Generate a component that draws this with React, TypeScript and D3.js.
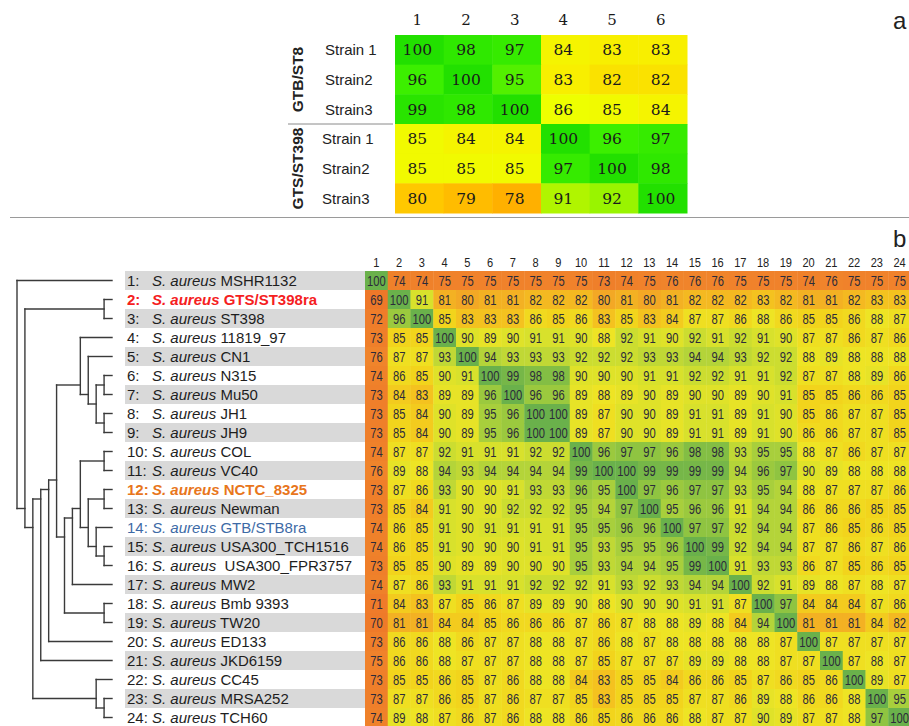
import * as d3 from 'd3';

// ---- panel a: 6x6 identity matrix of the six strains ----
const colsA = ['1', '2', '3', '4', '5', '6'];
const groupsA = ['GTB/ST8', 'GTS/ST398'];
const strainsA = ['Strain 1', 'Strain2', 'Strain3', 'Strain 1', 'Strain2', 'Strain3'];
const valuesA = [
  [100, 98, 97, 84, 83, 83],
  [96, 100, 95, 83, 82, 82],
  [99, 98, 100, 86, 85, 84],
  [85, 84, 84, 100, 96, 97],
  [85, 85, 85, 97, 100, 98],
  [80, 79, 78, 91, 92, 100],
];

// ---- panel b: 24 S. aureus genomes ----
const strainNames = [
  'MSHR1132', 'GTS/ST398ra', 'ST398', '11819_97', 'CN1', 'N315', 'Mu50', 'JH1',
  'JH9', 'COL', 'VC40', 'NCTC_8325', 'Newman', 'GTB/STB8ra', 'USA300_TCH1516',
  '\u00a0USA300_FPR3757', 'MW2', 'Bmb 9393', 'TW20', 'ED133', 'JKD6159', 'CC45',
  'MRSA252', 'TCH60',
];
const strainIds = strainNames.map((_, i) => i + 1);
const highlighted: Record<number, { color: string; bold: boolean }> = {
  2: { color: '#f5201e', bold: true },
  12: { color: '#e8761c', bold: true },
  14: { color: '#3d6aa6', bold: false },
};

const matrixB = [
  [100, 74, 74, 75, 75, 75, 75, 75, 75, 75, 73, 74, 75, 76, 76, 76, 75, 75, 75, 74, 76, 75, 75, 75],
  [69, 100, 91, 81, 80, 81, 81, 82, 82, 82, 80, 81, 80, 81, 82, 82, 82, 83, 82, 81, 81, 82, 83, 83],
  [72, 96, 100, 85, 83, 83, 83, 86, 85, 86, 83, 85, 83, 84, 87, 87, 86, 88, 86, 85, 85, 86, 88, 87],
  [73, 85, 85, 100, 90, 89, 90, 91, 91, 90, 88, 92, 91, 90, 92, 91, 92, 91, 90, 87, 87, 86, 87, 86],
  [76, 87, 87, 93, 100, 94, 93, 93, 93, 92, 92, 92, 93, 93, 94, 94, 93, 92, 92, 88, 89, 88, 88, 88],
  [74, 86, 85, 90, 91, 100, 99, 98, 98, 90, 90, 90, 91, 91, 92, 92, 91, 91, 92, 87, 87, 88, 89, 86],
  [73, 84, 83, 89, 89, 96, 100, 96, 96, 89, 88, 89, 90, 89, 90, 90, 89, 90, 91, 85, 85, 86, 86, 85],
  [73, 85, 84, 90, 89, 95, 96, 100, 100, 89, 87, 90, 90, 89, 91, 91, 89, 91, 90, 85, 86, 87, 87, 85],
  [73, 85, 84, 90, 89, 95, 96, 100, 100, 89, 87, 90, 90, 89, 91, 91, 89, 91, 90, 86, 86, 87, 87, 85],
  [74, 87, 87, 92, 91, 91, 91, 92, 92, 100, 96, 97, 97, 96, 98, 98, 93, 95, 95, 88, 87, 86, 87, 87],
  [76, 89, 88, 94, 93, 94, 94, 94, 94, 99, 100, 100, 99, 99, 99, 99, 94, 96, 97, 90, 89, 88, 88, 88],
  [73, 87, 86, 93, 90, 90, 91, 93, 93, 96, 95, 100, 97, 96, 97, 97, 93, 95, 94, 88, 87, 87, 87, 86],
  [73, 85, 84, 91, 90, 90, 92, 92, 92, 95, 94, 97, 100, 95, 96, 96, 91, 94, 94, 86, 86, 86, 85, 85],
  [74, 86, 85, 91, 90, 91, 91, 91, 91, 95, 95, 96, 96, 100, 97, 97, 92, 94, 94, 87, 86, 85, 86, 85],
  [74, 86, 85, 91, 90, 90, 90, 91, 91, 95, 93, 95, 95, 96, 100, 99, 92, 94, 94, 87, 87, 86, 87, 86],
  [73, 85, 85, 90, 89, 89, 90, 90, 90, 95, 93, 94, 94, 95, 99, 100, 91, 93, 93, 86, 87, 85, 86, 85],
  [74, 87, 86, 93, 91, 91, 91, 92, 92, 92, 91, 93, 92, 93, 94, 94, 100, 92, 91, 89, 88, 87, 88, 87],
  [71, 84, 83, 87, 85, 86, 87, 89, 89, 90, 88, 90, 90, 90, 91, 91, 87, 100, 97, 84, 84, 84, 87, 86],
  [70, 81, 81, 84, 84, 85, 86, 86, 86, 87, 86, 87, 88, 88, 89, 88, 84, 94, 100, 81, 81, 81, 84, 82],
  [73, 86, 86, 88, 86, 87, 87, 88, 88, 87, 86, 88, 87, 88, 88, 88, 88, 88, 87, 100, 87, 87, 87, 87],
  [75, 86, 86, 88, 87, 87, 87, 88, 88, 87, 85, 87, 87, 87, 89, 89, 88, 88, 87, 87, 100, 87, 88, 87],
  [73, 85, 85, 86, 85, 87, 86, 88, 88, 84, 83, 85, 85, 84, 86, 86, 85, 87, 86, 85, 86, 100, 89, 87],
  [73, 87, 87, 86, 85, 87, 86, 87, 87, 85, 83, 85, 85, 85, 87, 87, 86, 89, 88, 86, 86, 88, 100, 95],
  [74, 89, 88, 87, 86, 87, 86, 88, 88, 86, 85, 86, 86, 86, 88, 87, 87, 90, 89, 87, 87, 88, 97, 100],
];

// dendrogram: h = branching level, leaves are strain ids
type TNode = number | { h: number; c: TNode[] };
const tree: TNode = {
  h: 12,
  c: [
    1,
    {
      h: 11,
      c: [
        { h: 1, c: [2, 3] },
        {
          h: 10,
          c: [
            {
              h: 9,
              c: [
                {
                  h: 8,
                  c: [
                    {
                      h: 7,
                      c: [
                        { h: 4, c: [4, { h: 3, c: [5, { h: 2, c: [{ h: 1, c: [6, 7] }, { h: 1, c: [8, 9] }] }] }] },
                        {
                          h: 6,
                          c: [
                            {
                              h: 5,
                              c: [
                                {
                                  h: 4,
                                  c: [
                                    { h: 1, c: [10, 11] },
                                    { h: 3, c: [{ h: 1, c: [12, 13] }, { h: 2, c: [14, { h: 1, c: [15, 16] }] }] },
                                  ],
                                },
                                17,
                              ],
                            },
                            { h: 1, c: [18, 19] },
                          ],
                        },
                      ],
                    },
                    20,
                  ],
                },
                21,
              ],
            },
            { h: 2, c: [22, { h: 1, c: [23, 24] }] },
          ],
        },
      ],
    },
  ],
};

const sans = '"Liberation Sans", Arial, sans-serif';
const serif = '"DejaVu Serif", Georgia, serif';

const heatA = d3
  .scaleLinear<string>()
  .domain([78, 80, 83, 86, 91, 96, 100])
  .range(['#ffb000', '#ffc800', '#f8ef00', '#eeff00', '#b0f500', '#3cef00', '#22e000'])
  .clamp(true);

const heatB = d3
  .scaleLinear<string>()
  .domain([69, 76, 80, 83, 85, 88, 91, 94, 97, 100])
  .range(['#ee7829', '#f0842b', '#f3a825', '#f4c21f', '#f2d41c', '#eee424', '#d8e12c', '#b4d439', '#8fc441', '#6ab14b'])
  .clamp(true);

export default function App() {
  const W = 909;
  const H = 726;

  // panel a scales
  const xA = d3.scaleBand<string>().domain(colsA).range([395, 687]);
  const yA = d3.scaleBand<number>().domain(d3.range(strainsA.length)).range([35, 213]);

  // panel b scales
  const xB = d3.scaleBand<number>().domain(strainIds).range([365, 365 + 24 * 22.75]);
  const yB = d3.scaleBand<number>().domain(strainIds).range([271, 727]);
  const xT = d3.scaleLinear().domain([0, 12]).range([112, 17]);

  // layout tree
  const segs: { x1: number; y1: number; x2: number; y2: number }[] = [];
  const layout = (n: TNode): { x: number; y: number; lo: number; hi: number } => {
    if (typeof n === 'number') {
      const y = (yB(n) ?? 0) + yB.bandwidth() / 2;
      return { x: xT(0), y, lo: y, hi: y };
    }
    const kids = n.c.map(layout);
    const x = xT(n.h);
    const lo = d3.min(kids, (k) => k.lo)!;
    const hi = d3.max(kids, (k) => k.hi)!;
    const ys = kids.map((k) => k.y);
    segs.push({ x1: x, x2: x, y1: d3.min(ys)!, y2: d3.max(ys)! });
    kids.forEach((k) => segs.push({ x1: x, x2: k.x, y1: k.y, y2: k.y }));
    return { x, y: (lo + hi) / 2, lo, hi };
  };
  layout(tree);

  const cw = xB.bandwidth();
  const ch = yB.bandwidth();

  return (
    <svg width={W} height={H} style={{ position: 'absolute', left: 0, top: 0, background: '#fff' }}>
      {/* ---------- panel a ---------- */}
      <text x={893} y={29} fontSize={24} fontFamily={sans} fill="#222">a</text>
      {colsA.map((c) => (
        <text key={`ha-${c}`} x={(xA(c) ?? 0) + xA.bandwidth() / 2 - 2} y={25} textAnchor="middle"
          fontSize={15} fontFamily={serif} fill="#1a1a1a">
          {c}
        </text>
      ))}
      {valuesA.map((row, r) =>
        row.map((v, c) => (
          <rect key={`ca-${r}-${c}`} x={xA(colsA[c])} y={yA(r)} width={xA.bandwidth() + 0.5}
            height={yA.bandwidth() + 0.5} fill={heatA(v)} />
        ))
      )}
      {valuesA.map((row, r) =>
        row.map((v, c) => (
          <text key={`ta-${r}-${c}`} x={(xA(colsA[c]) ?? 0) + xA.bandwidth() / 2 - 2}
            y={(yA(r) ?? 0) + yA.bandwidth() / 2} dy="0.36em" textAnchor="middle"
            fontSize={15.5} fontFamily={serif} fill="#1a1a1a">
            {v}
          </text>
        ))
      )}
      {strainsA.map((s, r) => (
        <text key={`sa-${r}`} x={r < 3 ? 325 : 322} y={(yA(r) ?? 0) + yA.bandwidth() / 2} dy="0.36em"
          fontSize={15} fontFamily={sans} fill="#222">
          {s}
        </text>
      ))}
      {groupsA.map((g, i) => {
        const y0 = yA(i * 3) ?? 0;
        const cy = y0 + (yA.bandwidth() * 3) / 2;
        return (
          <text key={`ga-${g}`} transform={`translate(297, ${cy}) rotate(-90)`} textAnchor="middle"
            dy="0.36em" fontSize={15.5} fontWeight="bold" fontFamily={sans} fill="#222">
            {g}
          </text>
        );
      })}
      <line x1={288} x2={393} y1={yA(3)} y2={yA(3)} stroke="#8a8a8a" strokeWidth={1} />

      {/* divider */}
      <line x1={10} x2={W} y1={217.5} y2={217.5} stroke="#9a9a9a" strokeWidth={1} />

      {/* ---------- panel b ---------- */}
      <text x={893} y={247} fontSize={24} fontFamily={sans} fill="#222">b</text>
      {strainIds.map((id) => (
        <text key={`hb-${id}`} transform={`translate(${(xB(id) ?? 0) + cw / 2}, 266.5) scale(0.82, 1)`}
          textAnchor="middle" fontSize={13.5} fontFamily={sans} fill="#222">
          {id}
        </text>
      ))}

      {/* label bands */}
      {strainIds.filter((id) => id % 2 === 1).map((id) => (
        <rect key={`band-${id}`} x={125} y={yB(id)} width={365 - 125} height={ch} fill="#d9d9d9" />
      ))}

      {/* heat cells */}
      {matrixB.map((row, r) =>
        row.map((v, c) => (
          <rect key={`cb-${r}-${c}`} x={xB(strainIds[c])} y={yB(strainIds[r])} width={cw + 0.4}
            height={ch + 0.4} fill={heatB(v)} />
        ))
      )}
      {matrixB.map((row, r) =>
        row.map((v, c) => (
          <text key={`tb-${r}-${c}`}
            transform={`translate(${(xB(strainIds[c]) ?? 0) + cw / 2}, ${(yB(strainIds[r]) ?? 0) + ch / 2}) scale(0.8, 1)`}
            dy="0.36em" textAnchor="middle" fontSize={14} fontFamily={sans} fill="#2b2b3a">
            {v}
          </text>
        ))
      )}

      {/* strain labels */}
      {strainNames.map((name, i) => {
        const id = strainIds[i];
        const hl = highlighted[id];
        const fill = hl ? hl.color : '#1e1e1e';
        const fw = hl && hl.bold ? 'bold' : 'normal';
        const y = (yB(id) ?? 0) + ch / 2;
        return (
          <g key={`lbl-${id}`} fontFamily={sans} fontSize={15} fill={fill} fontWeight={fw}>
            <text x={127} y={y} dy="0.36em">{`${id}:`}</text>
            <text x={152} y={y} dy="0.36em" style={{ whiteSpace: 'pre' }}>
              <tspan fontStyle="italic">S. aureus</tspan>
              <tspan>{` ${name}`}</tspan>
            </text>
          </g>
        );
      })}

      {/* dendrogram */}
      {segs.map((s, i) => (
        <line key={`seg-${i}`} x1={s.x1} x2={s.x2} y1={s.y1} y2={s.y2} stroke="#3a3a3a"
          strokeWidth={1.4} strokeLinecap="square" />
      ))}
    </svg>
  );
}
